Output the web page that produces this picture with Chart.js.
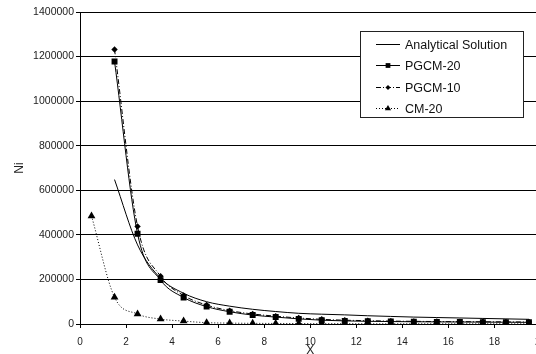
<!DOCTYPE html>
<html lang="en">
<head>
<meta charset="UTF-8">
<title>Ni vs X</title>
<script src="https://cdnjs.cloudflare.com/ajax/libs/Chart.js/4.4.1/chart.umd.min.js"></script>
<style>
  html, body { margin: 0; padding: 0; overflow: hidden; background: #fff; }
  #wrap { width: 554px; height: 358px; }
</style>
</head>
<body>
<div id="wrap"><canvas id="myChart" width="554" height="358"></canvas></div>
<script>
// x positions (cell centres)
const xCM = [0.5, 1.5, 2.5, 3.5, 4.5, 5.5, 6.5, 7.5, 8.5, 9.5, 10.5, 11.5, 12.5, 13.5, 14.5, 15.5, 16.5, 17.5, 18.5, 19.5];
const xPG = [1.5, 2.5, 3.5, 4.5, 5.5, 6.5, 7.5, 8.5, 9.5, 10.5, 11.5, 12.5, 13.5, 14.5, 15.5, 16.5, 17.5, 18.5, 19.5];

const analytical = [648000, 355000, 205000, 138000, 100000, 80000, 66000, 56000, 48000, 44000, 41000, 37000, 34000, 31000, 29000, 27000, 25000, 23000, 21000];
const pgcm20 = [1178000, 405000, 197000, 119000, 78000, 55000, 40000, 31000, 23000, 17000, 14000, 12000, 11000, 10000, 9500, 9000, 8500, 8000, 7500];
const pgcm10 = [1232000, 438000, 214000, 128000, 85000, 60000, 45000, 35000, 27000, 21000, 17000, 15000, 13000, 12000, 11000, 10500, 10000, 9500, 9000];
const cm20 = [485000, 120000, 45000, 22000, 13000, 6000, 4000, 3000, 2500, 2000, 1500, 1500, 1000, 1000, 1000, 1000, 1000, 1000, 1000, 1000];

const yTicks = [0, 200000, 400000, 600000, 800000, 1000000, 1200000, 1400000];

const font = 'Liberation Sans, Arial, sans-serif';

function pts(xs, ys) {
  return xs.map((x, i) => ({x: x, y: ys[i]}));
}

// legend drawn as a box inside the plot, like the original
const boxLegend = {
  id: 'boxLegend',
  afterDraw(chart) {
    const ctx = chart.ctx;
    ctx.save();
    ctx.fillStyle = '#fff';
    ctx.fillRect(360, 31, 163, 86);
    ctx.strokeStyle = '#222';
    ctx.lineWidth = 1;
    ctx.strokeRect(360.5, 31.5, 163, 86);
    chart.data.datasets.forEach((ds, i) => {
      const y = Math.round(44 + i * 21.3) + 0.5;
      ctx.beginPath();
      ctx.setLineDash(ds.borderDash || []);
      ctx.strokeStyle = ds.borderColor;
      ctx.moveTo(376, y);
      ctx.lineTo(400, y);
      ctx.stroke();
      ctx.setLineDash([]);
      if (ds.pointRadius > 0) {
        ctx.fillStyle = '#000';
        Chart.helpers.drawPoint(ctx, {pointStyle: ds.pointStyle, radius: ds.pointRadius * 0.8, borderWidth: 0, rotation: 0}, 388, y);
      }
      ctx.fillStyle = '#111';
      ctx.font = '12.5px ' + font;
      ctx.textBaseline = 'middle';
      ctx.fillText(ds.label, 405, y + 1);
    });
    ctx.restore();
  }
};

const ctx = document.getElementById('myChart');
new Chart(ctx, {
  type: 'scatter',
  data: {
    datasets: [
      {label: 'Analytical Solution', data: pts(xPG, analytical), showLine: true, borderColor: '#000', borderWidth: 1, pointRadius: 0, cubicInterpolationMode: 'monotone'},
      {label: 'PGCM-20', data: pts(xPG, pgcm20), showLine: true, borderColor: '#000', borderWidth: 1, pointStyle: 'rect', pointRadius: 4.2, pointBackgroundColor: '#000', pointBorderWidth: 0, cubicInterpolationMode: 'monotone'},
      {label: 'PGCM-10', data: pts(xPG, pgcm10), showLine: true, borderColor: '#000', borderWidth: 1, borderDash: [5, 2, 1, 2], pointStyle: 'rectRot', pointRadius: 3.2, pointBackgroundColor: '#000', pointBorderWidth: 0, cubicInterpolationMode: 'monotone'},
      {label: 'CM-20', data: pts(xCM, cm20), showLine: true, borderColor: '#000', borderWidth: 1, borderDash: [1, 2], pointStyle: 'triangle', pointRadius: 4.5, pointBackgroundColor: '#000', pointBorderWidth: 0, cubicInterpolationMode: 'monotone'}
    ]
  },
  options: {
    responsive: false,
    animation: false,
    layout: {padding: {left: 0, right: 5, top: 12, bottom: 0}},
    plugins: {legend: {display: false}, tooltip: {enabled: false}},
    scales: {
      x: {
        type: 'linear',
        min: 0, max: 20,
        afterFit(scale) { scale.height = 34; },
        border: {color: '#000', width: 1},
        grid: {drawOnChartArea: false, drawTicks: true, tickLength: 4, color: '#000'},
        ticks: {stepSize: 2, autoSkip: false, maxRotation: 0, padding: 8, color: '#222', font: {family: font, size: 10}},
        title: {display: true, text: 'X', color: '#222', padding: {top: 0, bottom: 0}, font: {family: font, size: 12}}
      },
      y: {
        type: 'linear',
        min: 0, max: 1400000,
        afterFit(scale) { scale.width = 80; },
        afterBuildTicks(scale) { scale.ticks = yTicks.map(v => ({value: v})); },
        border: {color: '#000', width: 1},
        grid: {color: '#000', tickLength: 4, lineWidth: 1},
        ticks: {padding: 2, color: '#222', font: {family: font, size: 10.5}, callback: v => String(v)},
        title: {display: true, text: 'Ni', color: '#222', padding: {top: 12, bottom: 0}, font: {family: font, size: 12}}
      }
    }
  },
  plugins: [boxLegend]
});
</script>
</body>
</html>
